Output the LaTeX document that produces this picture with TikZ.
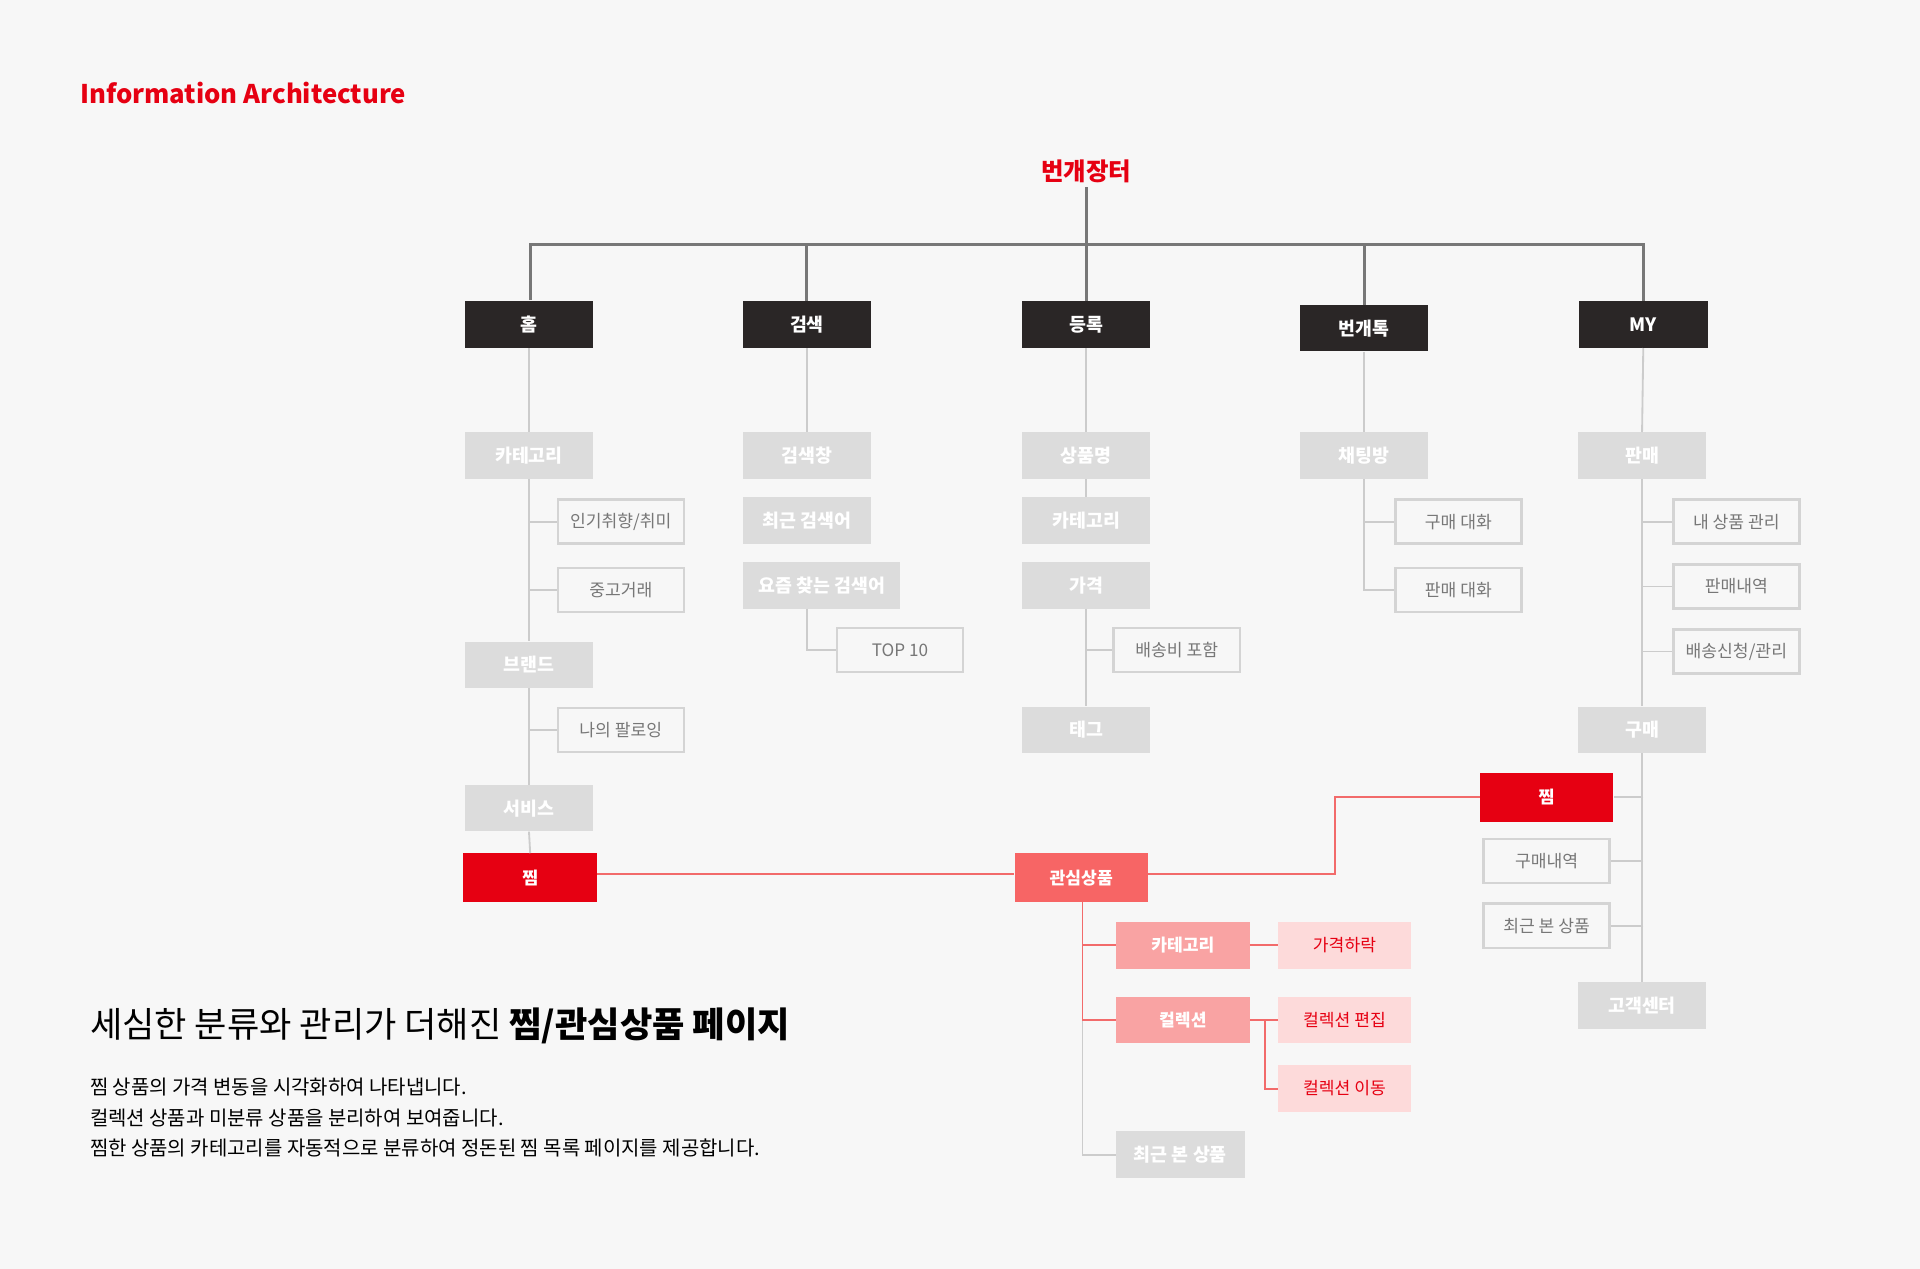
\documentclass[tikz,border=0pt]{standalone}
\usepackage{fontspec}
\setmainfont{Noto Sans CJK KR}
\definecolor{bg}{HTML}{F7F7F7}
\definecolor{brand}{HTML}{E60012}
\definecolor{dark}{HTML}{2A2626}
\definecolor{lg}{HTML}{DCDCDC}
\definecolor{ol}{HTML}{D4D4D4}
\definecolor{salmon}{HTML}{F76565}
\definecolor{pinkm}{HTML}{F9A3A3}
\definecolor{pinkl}{HTML}{FDDADA}
\definecolor{ln}{HTML}{777777}
\definecolor{lnl}{HTML}{CCCCCC}
\definecolor{lr}{HTML}{F26B6B}
\begin{document}
\begin{tikzpicture}[x=1pt,y=-1pt,
 bx/.style={minimum width=105pt,minimum height=38pt,inner sep=0pt,font=\fontsize{14}{16}\selectfont},
 darkb/.style={bx,fill=dark,text=white,font=\fontsize{15}{17}\selectfont\bfseries},
 grayb/.style={bx,fill=lg,text=white,font=\fontsize{15}{17}\selectfont\bfseries},
 olb/.style={bx,minimum width=103pt,minimum height=36pt,draw=ol,line width=2pt,fill=bg,text=ln},
 redb/.style={bx,minimum width=109pt,minimum height=40pt,fill=brand,text=white,font=\fontsize{14}{16}\selectfont\bfseries},
 salb/.style={redb,fill=salmon},
 pmb/.style={redb,minimum height=38pt,fill=pinkm},
 plb/.style={redb,minimum height=38pt,fill=pinkl,text=brand,font=\fontsize{14}{16}\selectfont},
 tl/.style={ln,line width=2.5pt},
 gl/.style={lnl,line width=1.5pt},
 rl/.style={lr,line width=1.5pt}]
\fill[bg] (0,0) rectangle (1568,1036);
\useasboundingbox (0,0) rectangle (1568,1036);
\node[anchor=west,text=brand,font=\fontsize{21}{23}\selectfont\bfseries] (title) at (62,76) {Information Architecture};
\node[text=brand,font=\fontsize{20}{22}\selectfont\bfseries] (root) at (887,140) {번개장터};
% dark
\node[darkb] (home) at (432,265) {홈};
\node[darkb] (srch) at (659,265) {검색};
\node[darkb] (reg) at (887,265) {등록};
\node[darkb] (talk) at (1114,268) {번개톡};
\node[darkb] (my) at (1342,265) {MY};
\draw[tl] (root.south) -- (887,200);
\draw[tl] (433,245) -- (433,200) -- (1342,200) -- (my.north);
\draw[tl] (srch.north) -- (659,200);
\draw[tl] (reg.north) -- (887,200);
\draw[tl] (talk.north) -- (1114,200);
% home column
\node[grayb] (h1) at (432,372) {카테고리};
\node[olb] (h11) at (507,426) {인기취향/취미};
\node[olb] (h12) at (507,482) {중고거래};
\node[grayb] (h2) at (432,543) {브랜드};
\node[olb] (h21) at (507,596) {나의 팔로잉};
\node[grayb] (h3) at (432,660) {서비스};
\node[redb] (hz) at (433,717) {찜};
\draw[gl] (home.south) -- (h1.north);
\draw[gl] (h1.south) -- (h2.north);
\draw[gl] (h2.south) -- (h3.north);
\draw[gl] (h3.south) -- (hz.north);
\draw[gl] (433,426) -- (h11.west);
\draw[gl] (433,482) -- (h12.west);
\draw[gl] (433,596) -- (h21.west);
% search
\node[grayb] (s1) at (659,372) {검색창};
\node[grayb] (s2) at (659,425) {최근 검색어};
\node[grayb,minimum width=128pt] (s3) at (671,478) {요즘 찾는 검색어};
\node[olb] (s31) at (735,531) {TOP 10};
\draw[gl] (srch.south) -- (s1.north);
\draw[gl] (659,497) -- (659,531) -- (s31.west);
% register
\node[grayb] (r1) at (887,372) {상품명};
\node[grayb] (r2) at (887,425) {카테고리};
\node[grayb] (r3) at (887,478) {가격};
\node[olb] (r31) at (961,531) {배송비 포함};
\node[grayb] (r4) at (887,596) {태그};
\draw[gl] (reg.south) -- (r1.north);
\draw[gl] (r1.south) -- (r2.north);
\draw[gl] (r3.south) -- (r4.north);
\draw[gl] (887,531) -- (r31.west);
% talk
\node[grayb] (t1) at (1114,372) {채팅방};
\node[olb] (t11) at (1191,426) {구매 대화};
\node[olb] (t12) at (1191,482) {판매 대화};
\draw[gl] (talk.south) -- (t1.north);
\draw[gl] (t1.south) -- (1114,482) -- (t12.west);
\draw[gl] (1114,426) -- (t11.west);
% MY
\node[grayb] (m1) at (1341,372) {판매};
\node[olb] (m11) at (1418,426) {내 상품 관리};
\node[olb] (m12) at (1418,479) {판매내역};
\node[olb] (m13) at (1418,532) {배송신청/관리};
\node[grayb] (m2) at (1341,596) {구매};
\node[redb] (mz) at (1263,651) {찜};
\node[olb] (m22) at (1263,703) {구매내역};
\node[olb] (m23) at (1263,756) {최근 본 상품};
\node[grayb] (m3) at (1341,821) {고객센터};
\draw[gl] (my.south) -- (m1.north);
\draw[gl] (m1.south) -- (m2.north);
\draw[gl] (m2.south) -- (m3.north);
\draw[gl] (1342,426) -- (m11.west);
\draw[gl] (1342,479) -- (m12.west);
\draw[gl] (1342,532) -- (m13.west);
\draw[gl] (1342,651) -- (mz.east);
\draw[gl] (1342,703) -- (m22.east);
\draw[gl] (1342,756) -- (m23.east);
% interest
\node[salb] (ip) at (883,717) {관심상품};
\node[pmb] (c1) at (966,772) {카테고리};
\node[pmb] (c2) at (966,833) {컬렉션};
\node[plb] (c11) at (1098,772) {가격하락};
\node[plb] (c21) at (1098,833) {컬렉션 편집};
\node[plb] (c22) at (1098,889) {컬렉션 이동};
\node[grayb] (c3) at (964,943) {최근 본 상품};
\draw[rl] (hz.east |- 0,714) -- (ip.west |- 0,714);
\draw[rl] (ip.east |- 0,714) -- (1090,714) -- (1090,651) -- (mz.west);
\draw[gl] (884,833) -- (884,943) -- (c3.west);
\draw[rl] (884,737) -- (884,833) -- (c2.west);
\draw[rl] (884,772) -- (c1.west);
\draw[rl] (c1.east) -- (c11.west);
\draw[rl] (c2.east) -- (c21.west);
\draw[rl] (1033,833) -- (1033,889) -- (c22.west);
% text
\node[anchor=west,font=\fontsize{28.7}{32}\selectfont] (hd) at (70,838) {세심한 분류와 관리가 더해진 \textbf{찜/관심상품 페이지}};
\node[anchor=north west,align=left,font=\fontsize{16.3}{25}\selectfont] (body) at (70,877) {찜 상품의 가격 변동을 시각화하여 나타냅니다.\\컬렉션 상품과 미분류 상품을 분리하여 보여줍니다.\\찜한 상품의 카테고리를 자동적으로 분류하여 정돈된 찜 목록 페이지를 제공합니다.};
\end{tikzpicture}
\end{document}
